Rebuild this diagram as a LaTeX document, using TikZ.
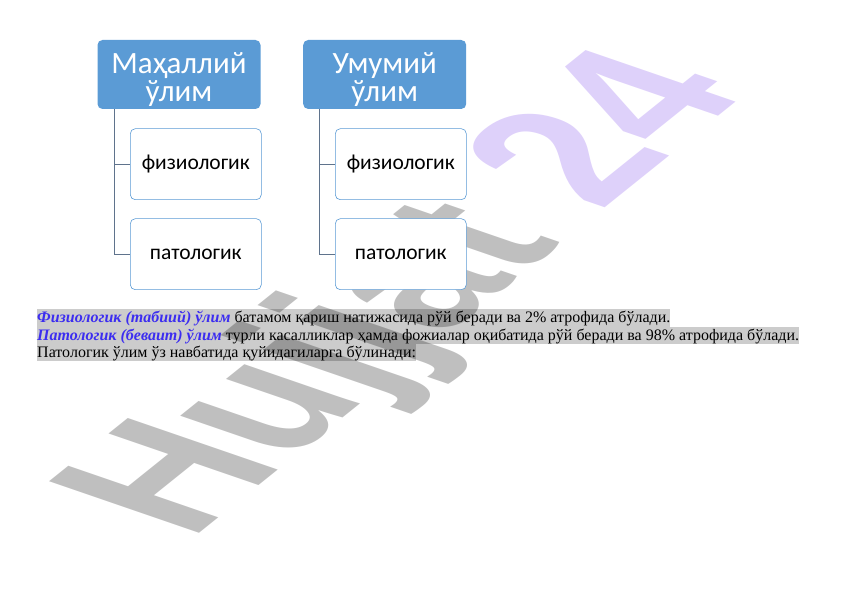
\documentclass[tikz,border=0pt]{standalone}
\usepackage{fontspec}
\setmainfont{Liberation Serif}
\newfontfamily\calibri{Carlito}
\newfontfamily\wmfont{Liberation Sans}
\definecolor{headblue}{RGB}{91,155,213}
\definecolor{linkgray}{RGB}{95,115,140}
\definecolor{markgray}{RGB}{204,204,204}
\definecolor{termblue}{RGB}{60,45,240}
\definecolor{wmviolet}{RGB}{125,70,235}
\begin{document}
\begin{tikzpicture}[x=1pt, y=1pt,
    head/.style={fill=headblue, rounded corners=5pt, minimum width=163pt, minimum height=69pt,
      text=white, align=center, font=\calibri\fontsize{31}{28}\selectfont, inner sep=0pt,
      text height=54pt, text depth=0pt},
    leaf/.style={draw=headblue, line width=0.6pt, fill=white, rounded corners=5pt,
      minimum width=131pt, minimum height=71pt, font=\calibri\fontsize{21.5}{24}\selectfont},
    link/.style={draw=linkgray, line width=0.8pt},
    line/.style={fill=markgray, inner xsep=0pt, inner ysep=0pt, text height=13.6pt, text depth=3.7pt,
      anchor=base west, font=\fontsize{16}{17.3}\selectfont}]
    \useasboundingbox (0,0) rectangle (842,596);
    % highlighted lines
    \node[line] (l1) at (37,273) {\textcolor{termblue}{\bfseries\itshape Физиологик (табиий) ўлим} батамом қариш натижасида рўй беради ва 2\% атрофида бўлади.};
    \node[line] (l2) at (37,255.7) {\textcolor{termblue}{\bfseries\itshape Патологик (беваит) ўлим} турли касалликлар ҳамда фожиалар оқибатида рўй беради ва 98\% атрофида бўлади.};
    \node[line] (l3) at (37,238.4) {Патологик ўлим ўз навбатида қуйидагиларга бўлинади:};
    % watermark
    \begin{scope}[cm={1.34,1.076,-2.18,0.75,(190.4,55.2)}]
        \node[transform shape, anchor=base west, inner sep=0pt, text opacity=0.25,
          font=\wmfont\bfseries\fontsize{100}{100}\selectfont] (wm) at (0,0) {Hujjat \textcolor{wmviolet}{24}};
    \end{scope}
    % boxes
    \node[head] (mahalliy) at (179,521.5) {Маҳаллий\\ўлим};
    \node[head] (umumiy) at (384.7,521.5) {Умумий\\ўлим};
    \node[leaf] (fiz1) at (195.8,431.8) {физиологик};
    \node[leaf] (pat1) at (195.8,341.8) {патологик};
    \node[leaf] (fiz2) at (400.8,431.8) {физиологик};
    \node[leaf] (pat2) at (400.8,341.8) {патологик};
    \draw[link] ([xshift=17pt]mahalliy.south west) |- (fiz1.west);
    \draw[link] ([xshift=17pt]mahalliy.south west) |- (pat1.west);
    \draw[link] ([xshift=16pt]umumiy.south west) |- (fiz2.west);
    \draw[link] ([xshift=16pt]umumiy.south west) |- (pat2.west);
\end{tikzpicture}
\end{document}
